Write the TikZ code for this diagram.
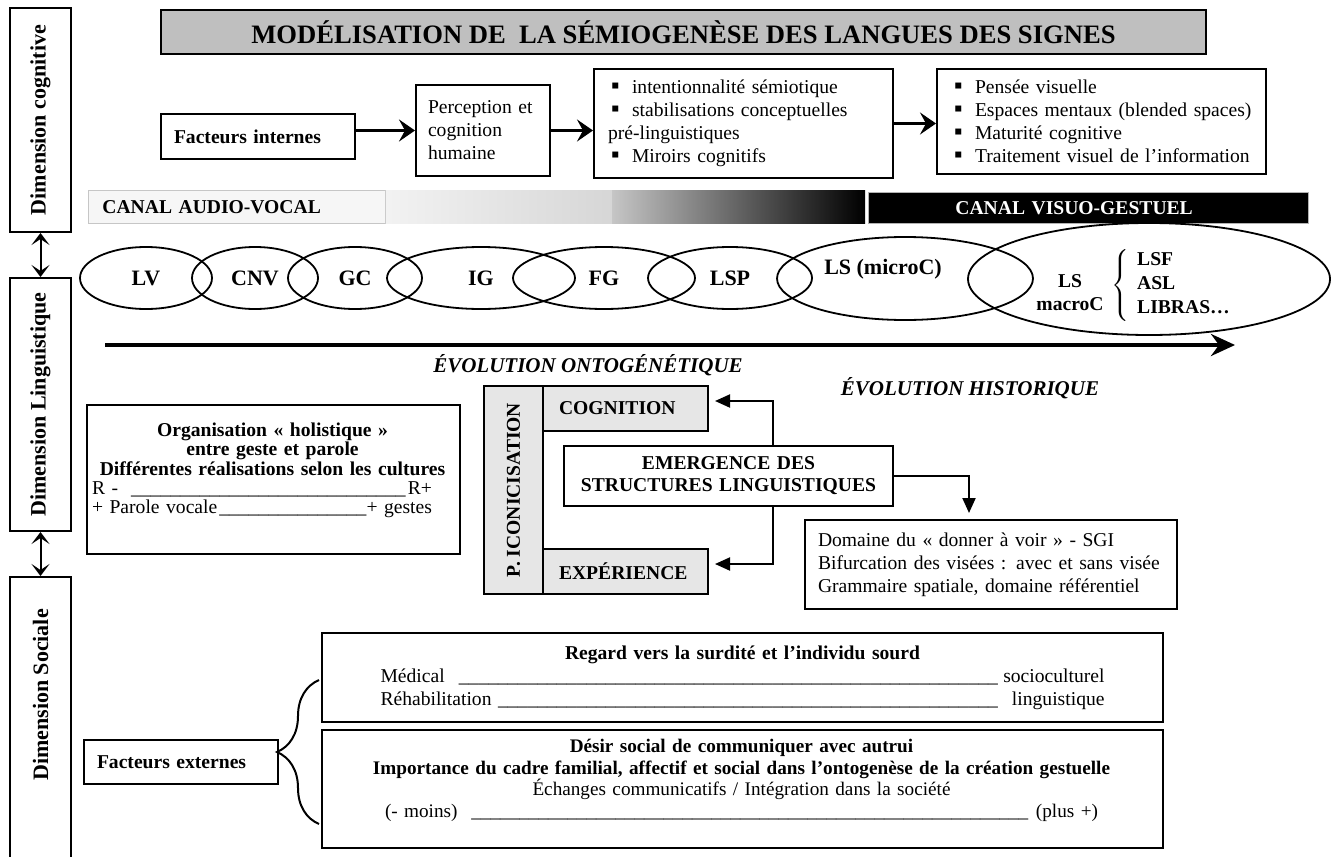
\documentclass[tikz,border=0pt]{standalone}
\usepackage{fontspec}
\usepackage{graphicx}
\setmainfont{Liberation Serif}
\usetikzlibrary{arrows.meta, positioning, calc, decorations.pathreplacing, shapes.geometric}
\definecolor{titlegray}{HTML}{BFBFBF}
\definecolor{boxgray}{HTML}{E6E6E6}
\definecolor{canalgray}{HTML}{F6F6F6}

\newcommand{\basefont}{\fontsize{9.8}{11.5}\selectfont}
\newcommand{\bul}{\hspace*{1.5pt}\makebox[10.5pt][l]{\fontsize{12}{12}\selectfont ▪}}
\newcommand{\ufill}{\leaders\hbox{\_}\hfill}

\tikzset{
  box/.style={draw, line width=1pt, inner sep=0pt, font=\basefont},
  dimbox/.style={draw, line width=1pt, inner sep=0pt, minimum width=30.5pt, font=\fontsize{11}{13}\selectfont\bfseries},
  ell/.style={draw, ellipse, line width=0.9pt, inner sep=0pt, font=\fontsize{11}{13}\selectfont\bfseries},
  evo/.style={font=\fontsize{10.5}{12}\selectfont\bfseries\itshape},
  flow/.style={-{Stealth[length=8pt, width=11pt, inset=3pt]}, line width=1.2pt},
  tri/.style={-{Triangle[length=7.5pt, width=6.5pt]}, line width=1pt, shorten >=3pt},
  dbl/.style={{Stealth[length=6pt, width=9pt, inset=3pt]}-{Stealth[length=6pt, width=9pt, inset=3pt]}, line width=1pt},
  evol/.style={-{Stealth[length=12pt, width=11pt, inset=4pt]}, line width=2pt}
}

\begin{document}
\begin{tikzpicture}[x=0.5pt, y=-0.5pt]
  \useasboundingbox (0,0) rectangle (1331,856);

  % dimensions on the left
  \node[dimbox, minimum height=112pt] (dcog) at (40.5,120) {\rotatebox{90}{Dimension cognitive}};
  \node[dimbox, minimum height=126.5pt] (dling) at (40.5,404.5) {\rotatebox{90}{Dimension Linguistique}};
  \node[dimbox, minimum height=160pt, anchor=north] (dsoc) at (40.5,576) {};
  \node[font=\fontsize{11}{13}\selectfont\bfseries] (dsoclab) at (40.5,695) {\rotatebox{90}{Dimension Sociale}};
  \draw[dbl] (dcog.south) -- (dling.north);
  \draw[dbl] (dling.south) -- (dsoc.north);

  % title
  \node[draw, line width=1pt, fill=titlegray, anchor=north west, minimum width=522.5pt, minimum height=22pt,
        inner sep=0pt, font=\fontsize{13.3}{15}\selectfont\bfseries] (title) at (160,9)
        {MODÉLISATION DE\ \ LA SÉMIOGENÈSE DES LANGUES DES SIGNES};

  % cognitive chain
  \node[box, anchor=north west, text width=84pt, inner xsep=6.5pt, minimum height=22.5pt, align=left,
        font=\basefont\bfseries] (fint) at (160,113) {Facteurs internes};
  \node[box, anchor=north west, text width=55pt, inner xsep=6pt, minimum height=45.5pt, align=left] (perc) at (415,84)
        {Perception et\\cognition\\humaine};
  \node[box, anchor=north west, text width=135.5pt, inner xsep=7pt, minimum height=54.5pt, align=left] (sem) at (593,68)
        {\bul intentionnalité sémiotique\\\bul stabilisations conceptuelles\\pré-linguistiques\\\bul Miroirs cognitifs};
  \node[box, anchor=north west, text width=150.5pt, inner xsep=7pt, minimum height=52.5pt, align=left] (vis) at (936,68)
        {\bul Pensée visuelle\\\bul Espaces mentaux (blended spaces)\\\bul Maturité cognitive\\\bul Traitement visuel de l’information};
  \draw[flow] (fint.east |- perc.west) -- (perc.west);
  \draw[flow] (perc.east) -- (perc.east -| sem.west);
  \draw[flow] (sem.east) -- (sem.east -| vis.west);

  % canal bar
  \node[draw=gray!45, fill=canalgray, anchor=north west, minimum height=16.5pt, inner sep=0pt, text width=134.5pt,
        inner xsep=7pt, align=left, font=\basefont\bfseries] (audio) at (88,190) {CANAL AUDIO-VOCAL};
  \shade[left color=gray!10, right color=gray!32] (audio.north east) rectangle (612,223);
  \shade[left color=gray!45, right color=black] (612,190) rectangle (865,223);
  \node[draw=gray!60, fill=black, text=white, anchor=north west, minimum height=15.5pt, inner sep=0pt, text width=133pt,
        inner xsep=43.5pt, align=left, font=\basefont\bfseries] (visuo) at (868,192) {CANAL VISUO-GESTUEL};

  % languages
  \node[ell, minimum width=66pt, minimum height=31pt] (lv) at (146,278) {LV};
  \node[ell, minimum width=63pt, minimum height=31pt] (cnv) at (255,278) {CNV};
  \node[ell, minimum width=67pt, minimum height=31pt] (gc) at (355,278) {GC};
  \node[ell, minimum width=94pt, minimum height=31pt] (ig) at (481,278) {IG};
  \node[ell, minimum width=91pt, minimum height=31pt] (fg) at (604,278) {FG};
  \node[ell, minimum width=82pt, minimum height=31pt] (lsp) at (730,278) {LSP};
  \node[ell, minimum width=128pt, minimum height=41.5pt] (lsmicro) at (905,278.5) {};
  \node[ell, minimum width=181pt, minimum height=56pt] (lsmacro) at (1149,279) {};
  \node[font=\fontsize{11}{13}\selectfont\bfseries] (lsmicrotxt) at (883,269) {LS (microC)};
  \node[font=\basefont\bfseries, align=center] (lsmacrotxt) at (1070,293) {LS\\macroC};
  \node[font=\basefont\bfseries, anchor=west, inner sep=0pt] (lslist) at (1111,285)
        {$\left\{\hspace{4pt}\renewcommand{\arraystretch}{1.04}\begin{tabular}{@{}l@{}}LSF\\ASL\\LIBRAS…\end{tabular}\right.$};

  % evolution
  \coordinate (evs) at (105,345);
  \coordinate (eve) at (1235,345);
  \draw[evol] (evs) -- (eve);
  \node[evo] (onto) at (588,365) {ÉVOLUTION ONTOGÉNÉTIQUE};
  \node[evo] (histo) at (970,388) {ÉVOLUTION HISTORIQUE};

  % holistic organisation
  \node[box, anchor=north west, minimum width=186.5pt, minimum height=74.5pt] (org) at (86,404) {};
  \node[text width=180.5pt, inner sep=0pt, align=left, font=\fontsize{9.8}{9.6}\selectfont] (orgtxt) at (272.5,470.5)
        {{\centering\bfseries Organisation « holistique »\\entre geste et parole\\Différentes réalisations selon les cultures\par}
         \makebox[170pt]{R - \ufill R+}\\
         \makebox[170pt]{+ Parole vocale\ufill + gestes}};

  % iconicisation
  \node[box, fill=boxgray, anchor=north west, minimum width=29.5pt, minimum height=104pt,
        font=\basefont\bfseries] (icon) at (483,385) {\rotatebox{90}{P. ICONICISATION}};
  \node[box, fill=boxgray, anchor=north west, minimum height=22.5pt, text width=66.5pt, inner xsep=8pt, align=left,
        font=\basefont\bfseries] (cog) at (542,385) {COGNITION};
  \node[box, fill=boxgray, anchor=north west, minimum height=22.5pt, text width=66.5pt, inner xsep=8pt, align=left,
        font=\basefont\bfseries] (exper) at (542,548) {EXPÉRIENCE};
  \node[box, anchor=north west, minimum height=30pt, text width=160pt, inner xsep=2.25pt, align=center,
        font=\fontsize{9.8}{11}\selectfont\bfseries] (emerg) at (563,445) {EMERGENCE DES\\STRUCTURES LINGUISTIQUES};
  \node[box, anchor=north west, minimum height=44.5pt, text width=173pt, inner xsep=6.5pt, align=left] (dom) at (804,519)
        {Domaine du « donner à voir » - SGI\\Bifurcation des visées : avec et sans visée\\Grammaire spatiale, domaine référentiel};
  \draw[tri] ([xshift=22.25pt]emerg.north) |- ([yshift=3.75pt]cog.east);
  \draw[tri] ([xshift=22.25pt]emerg.south) |- ([yshift=3.75pt]exper.east);
  \draw[tri] (emerg.east) -| ([xshift=-11pt]dom.north);

  % social factors
  \node[box, anchor=north west, minimum height=22pt, text width=84pt, inner xsep=6.5pt, align=left,
        font=\basefont\bfseries] (fext) at (83,739) {Facteurs externes};
  \node[box, anchor=north west, minimum height=44.5pt, text width=362pt, inner xsep=29.25pt, align=center] (reg) at (321,632)
        {\textbf{Regard vers la surdité et l’individu sourd}\\
         \makebox[362pt]{Médical \ufill{}socioculturel}\\
         \makebox[362pt]{Réhabilitation\ufill{} linguistique}};
  \node[box, anchor=north west, minimum width=420.5pt, minimum height=59pt] (des) at (321,729) {};
  \node[text width=410pt, inner sep=0pt, align=center, font=\fontsize{9.6}{10.85}\selectfont] (destxt) at (741.5,780.5)
        {\textbf{Désir social de communiquer avec autrui}\\
         \textbf{Importance du cadre familial, affectif et social dans l’ontogenèse de la création gestuelle}\\
         Échanges communicatifs / Intégration dans la société\\
         \makebox[356.5pt]{(- moins) \ufill{} (plus +)}};
  \coordinate (btop) at (319,680);
  \coordinate (bbot) at (319,824);
  \draw[line width=1pt, decorate, decoration={brace, amplitude=21pt}] (bbot) -- (btop);
\end{tikzpicture}
\end{document}
